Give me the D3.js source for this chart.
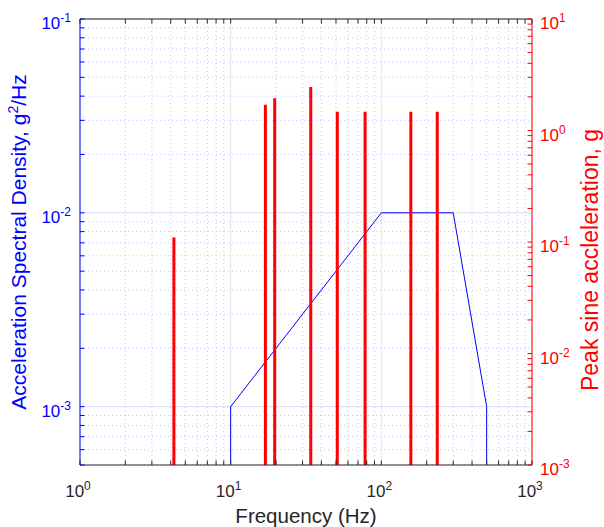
<!DOCTYPE html>
<html>
<head>
<meta charset="utf-8">
<script src="https://cdn.jsdelivr.net/npm/d3@7"></script>
<style>
  html, body { margin: 0; padding: 0; background: #fff; }
  svg { display: block; font-family: "Liberation Sans", Arial, sans-serif; }
</style>
</head>
<body>
<svg id="chart" width="604" height="527"></svg>
<script>
// Random-vibration PSD profile (left axis, g^2/Hz)
const psdFreq  = [10, 10, 100, 300, 500, 500];
const psdLevel = [1e-4, 1e-3, 1e-2, 1e-2, 1e-3, 1e-4];

// Sine tones superimposed on the random profile (right axis, peak g)
const sineFreq = [4.2, 17, 19.6, 34, 51, 78, 157, 235];
const sinePeak = [0.11, 1.7, 1.95, 2.45, 1.47, 1.47, 1.47, 1.47];

// Decade tick labels
const xTickValues     = [1, 10, 100, 1000];
const xTickExps       = ["0", "1", "2", "3"];
const leftTickValues  = [1e-3, 1e-2, 1e-1];
const leftTickExps    = ["-3", "-2", "-1"];
const rightTickValues = [1e-3, 1e-2, 1e-1, 1, 10];
const rightTickExps   = ["-3", "-2", "-1", "0", "1"];

const xLabel = "Frequency (Hz)";
const rightLabel = "Peak sine accleleration, g";

const svg = d3.select("#chart");
const L = 80, R = 532, T = 19, B = 465;
const axisDark = "#262626", blue = "#0000ff", red = "#ff0000";
const tickLen = 4.5;

const x  = d3.scaleLog().domain([1, 1000]).range([L, R]);
const yL = d3.scaleLog().domain([5e-4, 0.1]).range([B, T]);
const yR = d3.scaleLog().domain([1e-3, 10]).range([B, T]);

const isDecade = v => Math.abs(Math.log10(v) - Math.round(Math.log10(v))) < 1e-9;
const xAll = x.ticks().filter(v => v >= 1 && v <= 1000);
const yLAll = yL.ticks().filter(v => v >= 5e-4 && v <= 0.1);
const yRAll = yR.ticks().filter(v => v >= 1e-3 && v <= 10);

// Grid: minor dotted, major solid
const grid = svg.append("g");
xAll.filter(v => !isDecade(v)).forEach(v => {
  grid.append("line").attr("x1", x(v)).attr("x2", x(v)).attr("y1", T).attr("y2", B)
    .attr("stroke", "#c8c8c8").attr("stroke-width", 1).attr("stroke-dasharray", "1,3");
});
yLAll.filter(v => !isDecade(v)).forEach(v => {
  grid.append("line").attr("x1", L).attr("x2", R).attr("y1", yL(v)).attr("y2", yL(v))
    .attr("stroke", "#c4c4ff").attr("stroke-width", 1).attr("stroke-dasharray", "1,3");
});
xAll.filter(v => isDecade(v)).forEach(v => {
  grid.append("line").attr("x1", x(v)).attr("x2", x(v)).attr("y1", T).attr("y2", B)
    .attr("stroke", "#e4e4e4").attr("stroke-width", 1);
});
yLAll.filter(v => isDecade(v)).forEach(v => {
  grid.append("line").attr("x1", L).attr("x2", R).attr("y1", yL(v)).attr("y2", yL(v))
    .attr("stroke", "#dadaf6").attr("stroke-width", 1);
});

// Clip for data
svg.append("clipPath").attr("id", "plotClip")
  .append("rect").attr("x", L).attr("y", T).attr("width", R - L).attr("height", B - T);

// PSD profile
const psdLine = d3.line().x(d => x(d[0])).y(d => yL(d[1]));
svg.append("path")
  .datum(psdFreq.map((f, i) => [f, psdLevel[i]]))
  .attr("clip-path", "url(#plotClip)")
  .attr("d", psdLine)
  .attr("fill", "none").attr("stroke", blue).attr("stroke-width", 1);

// Sine tones
svg.append("g").selectAll("line")
  .data(sineFreq.map((f, i) => [f, sinePeak[i]]))
  .join("line")
  .attr("x1", d => x(d[0])).attr("x2", d => x(d[0]))
  .attr("y1", yR(1e-3)).attr("y2", d => yR(d[1]))
  .attr("stroke", red).attr("stroke-width", 3);

// Axes lines
const ax = svg.append("g");
ax.append("line").attr("x1", L).attr("x2", R).attr("y1", B).attr("y2", B).attr("stroke", axisDark);
ax.append("line").attr("x1", L).attr("x2", R).attr("y1", T).attr("y2", T).attr("stroke", axisDark);
ax.append("line").attr("x1", L).attr("x2", L).attr("y1", T).attr("y2", B).attr("stroke", blue);
ax.append("line").attr("x1", R).attr("x2", R).attr("y1", T).attr("y2", B).attr("stroke", red);

// Ticks (inward)
xAll.forEach(v => {
  ax.append("line").attr("x1", x(v)).attr("x2", x(v)).attr("y1", B).attr("y2", B - tickLen).attr("stroke", axisDark);
  ax.append("line").attr("x1", x(v)).attr("x2", x(v)).attr("y1", T).attr("y2", T + tickLen).attr("stroke", axisDark);
});
yLAll.forEach(v => {
  ax.append("line").attr("x1", L).attr("x2", L + tickLen).attr("y1", yL(v)).attr("y2", yL(v)).attr("stroke", blue);
});
yRAll.forEach(v => {
  ax.append("line").attr("x1", R).attr("x2", R - tickLen).attr("y1", yR(v)).attr("y2", yR(v)).attr("stroke", red);
});

// Power-of-ten labels
function powLabel(g, px, py, exp, anchor, color) {
  const t = g.append("text").attr("x", px).attr("y", py)
    .attr("text-anchor", anchor).attr("fill", color).attr("font-size", 17);
  t.append("tspan").text("10");
  t.append("tspan").attr("dy", -7).attr("font-size", 12).text(exp);
  return t;
}
const lbl = svg.append("g");
xTickValues.forEach((v, i) => powLabel(lbl, x(v) - 2, B + 32, xTickExps[i], "middle", axisDark));
leftTickValues.forEach((v, i) => powLabel(lbl, L - 9, yL(v) + 10, leftTickExps[i], "end", blue));
rightTickValues.forEach((v, i) => powLabel(lbl, R + 8, yR(v) + 10, rightTickExps[i], "start", red));

// Axis titles
svg.append("text").attr("x", (L + R) / 2).attr("y", 523)
  .attr("text-anchor", "middle").attr("fill", axisDark).attr("font-size", 20.5).text(xLabel);

const leftTitle = svg.append("text")
  .attr("transform", `translate(26,${(T + B) / 2}) rotate(-90)`)
  .attr("text-anchor", "middle").attr("fill", blue).attr("font-size", 21);
leftTitle.append("tspan").text("Acceleration Spectral Density, g");
leftTitle.append("tspan").attr("dy", -8).attr("font-size", 14).text("2");
leftTitle.append("tspan").attr("dy", 8).text("/Hz");

svg.append("text")
  .attr("transform", `translate(598,260) rotate(-90)`)
  .attr("text-anchor", "middle").attr("fill", red).attr("font-size", 23).text(rightLabel);
</script>
</body>
</html>
